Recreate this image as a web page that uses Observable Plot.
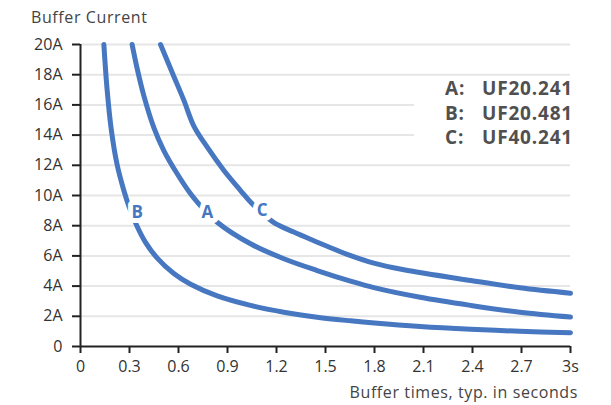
<!DOCTYPE html>
<html>
<head>
<meta charset="utf-8">
<script src="https://cdn.jsdelivr.net/npm/d3@7"></script>
<script src="https://cdn.jsdelivr.net/npm/@observablehq/plot@0.6"></script>
<style>
  html, body { margin: 0; padding: 0; background: #fff; }
  #wrap { position: relative; width: 611px; height: 405px; font-family: "Open Sans", sans-serif; }
  #wrap svg { position: absolute; left: 0; top: 0; }
  .ttl { position: absolute; font-size: 16px; letter-spacing: 0.6px; color: #444; white-space: nowrap; }
  #legend { position: absolute; left: 414px; top: 79px; width: 162px; height: 70px; background: #fff; }
  .lrow { position: absolute; left: 0; width: 159px; height: 24px; font-size: 19px; letter-spacing: 0.8px; font-weight: 700; color: #505050; line-height: 24px; }
  .lrow .k { position: absolute; left: 31px; }
  .lrow .v { position: absolute; right: 0; }
</style>
</head>
<body>
<div id="wrap"></div>
<script>
// Curve A: UF20.241
const timeA = [0.316, 0.347, 0.388, 0.449, 0.51, 0.592, 0.674, 0.724, 0.837, 1.041, 1.245, 1.449, 1.653, 1.796, 2.08, 2.39, 2.69, 3.0];
const currentA = [20, 18.4, 16.6, 14.5, 12.98, 11.44, 10.11, 9.45, 8.23, 6.8, 5.81, 5.03, 4.33, 3.9, 3.26, 2.72, 2.27, 1.95];
// Curve B: UF20.481
const timeB = [0.143, 0.163, 0.188, 0.225, 0.265, 0.296, 0.347, 0.398, 0.47, 0.571, 0.674, 0.837, 1.041, 1.245, 1.449, 1.653, 1.8, 2.08, 2.39, 2.69, 3.0];
const currentB = [20, 17.0, 14.4, 12.0, 10.35, 9.3, 7.95, 6.9, 5.85, 4.83, 4.12, 3.35, 2.72, 2.27, 1.94, 1.70, 1.55, 1.32, 1.14, 1.01, 0.91];
// Curve C: UF40.241
const timeC = [0.49, 0.571, 0.633, 0.694, 0.776, 0.878, 0.98, 1.051, 1.184, 1.306, 1.408, 1.51, 1.633, 1.796, 1.98, 2.39, 2.69, 3.0];
const currentC = [20, 17.9, 16.3, 14.6, 13.2, 11.66, 10.33, 9.45, 8.2, 7.58, 7.1, 6.64, 6.1, 5.52, 5.08, 4.37, 3.89, 3.53];

const seriesKeys = ["A", "B", "C"];
const seriesModels = ["UF20.241", "UF20.481", "UF40.241"];
const labelTime = [0.776, 0.347, 1.113];
const labelCurrent = [8.9, 8.9, 9.0];

const xTicks = [0, 0.3, 0.6, 0.9, 1.2, 1.5, 1.8, 2.1, 2.4, 2.7, 3];
const xTickLabels = ["0", "0.3", "0.6", "0.9", "1.2", "1.5", "1.8", "2.1", "2.4", "2.7", "3s"];
const yTicks = [0, 2, 4, 6, 8, 10, 12, 14, 16, 18, 20];
const yTickLabels = ["0", "2A", "4A", "6A", "8A", "10A", "12A", "14A", "16A", "18A", "20A"];

const titleY = "Buffer Current";
const titleX = "Buffer times, typ. in seconds";

const blue = "#4677c0";

const curves = [];
[[timeA, currentA, "A"], [timeB, currentB, "B"], [timeC, currentC, "C"]].forEach(([ts, is, k]) => {
  ts.forEach((t, i) => curves.push({ t, i: is[i], k }));
});
const labels = seriesKeys.map((k, j) => ({ k, t: labelTime[j], i: labelCurrent[j] }));

const chart = Plot.plot({
  width: 611,
  height: 405,
  marginLeft: 80,
  marginRight: 41,
  marginTop: 44,
  marginBottom: 59,
  style: { fontFamily: "Open Sans, sans-serif", fontSize: "16px", color: "#333", background: "transparent" },
  x: { domain: [0, 3] },
  y: { domain: [0, 20] },
  marks: [
    Plot.gridY(yTicks.filter(d => d > 0), { stroke: "#e6e6e6", strokeOpacity: 1, strokeWidth: 2 }),
    Plot.line(curves, { x: "t", y: "i", z: "k", stroke: blue, strokeWidth: 5, strokeLinecap: "round", strokeLinejoin: "round", curve: "catmull-rom" }),
    Plot.text(labels, { x: "t", y: "i", text: "k", fill: blue, stroke: "white", strokeWidth: 10, fontWeight: "bold", fontSize: 17, textAnchor: "middle", lineAnchor: "middle" }),
    Plot.axisY({ ticks: yTicks, tickFormat: d => yTickLabels[yTicks.indexOf(d)], tickSize: 8, tickPadding: 10, label: null, stroke: "#222", strokeWidth: 2, fill: "#333", fontSize: 16 }),
    Plot.axisX({ ticks: xTicks, tickFormat: d => xTickLabels[xTicks.indexOf(d)], tickSize: 7, tickPadding: 7, label: null, stroke: "#222", strokeWidth: 2, fill: "#333", fontSize: 16 }),
    Plot.ruleX([0], { stroke: "#222", strokeWidth: 2 }),
    Plot.ruleY([0], { stroke: "#222", strokeWidth: 2 })
  ]
});

const wrap = document.getElementById("wrap");
wrap.appendChild(chart);

const t1 = document.createElement("div");
t1.className = "ttl";
t1.style.left = "31px"; t1.style.top = "6px";
t1.textContent = titleY;
wrap.appendChild(t1);

const t2 = document.createElement("div");
t2.className = "ttl";
t2.style.right = (611 - 578) + "px"; t2.style.top = "381px";
t2.textContent = titleX;
wrap.appendChild(t2);

const legend = document.createElement("div");
legend.id = "legend";
seriesKeys.forEach((k, j) => {
  const row = document.createElement("div");
  row.className = "lrow";
  row.style.top = (-3 + j * 24.5) + "px";
  const a = document.createElement("span"); a.className = "k"; a.textContent = k + ":";
  const b = document.createElement("span"); b.className = "v"; b.textContent = seriesModels[j];
  row.appendChild(a); row.appendChild(b);
  legend.appendChild(row);
});
wrap.appendChild(legend);
</script>
</body>
</html>
